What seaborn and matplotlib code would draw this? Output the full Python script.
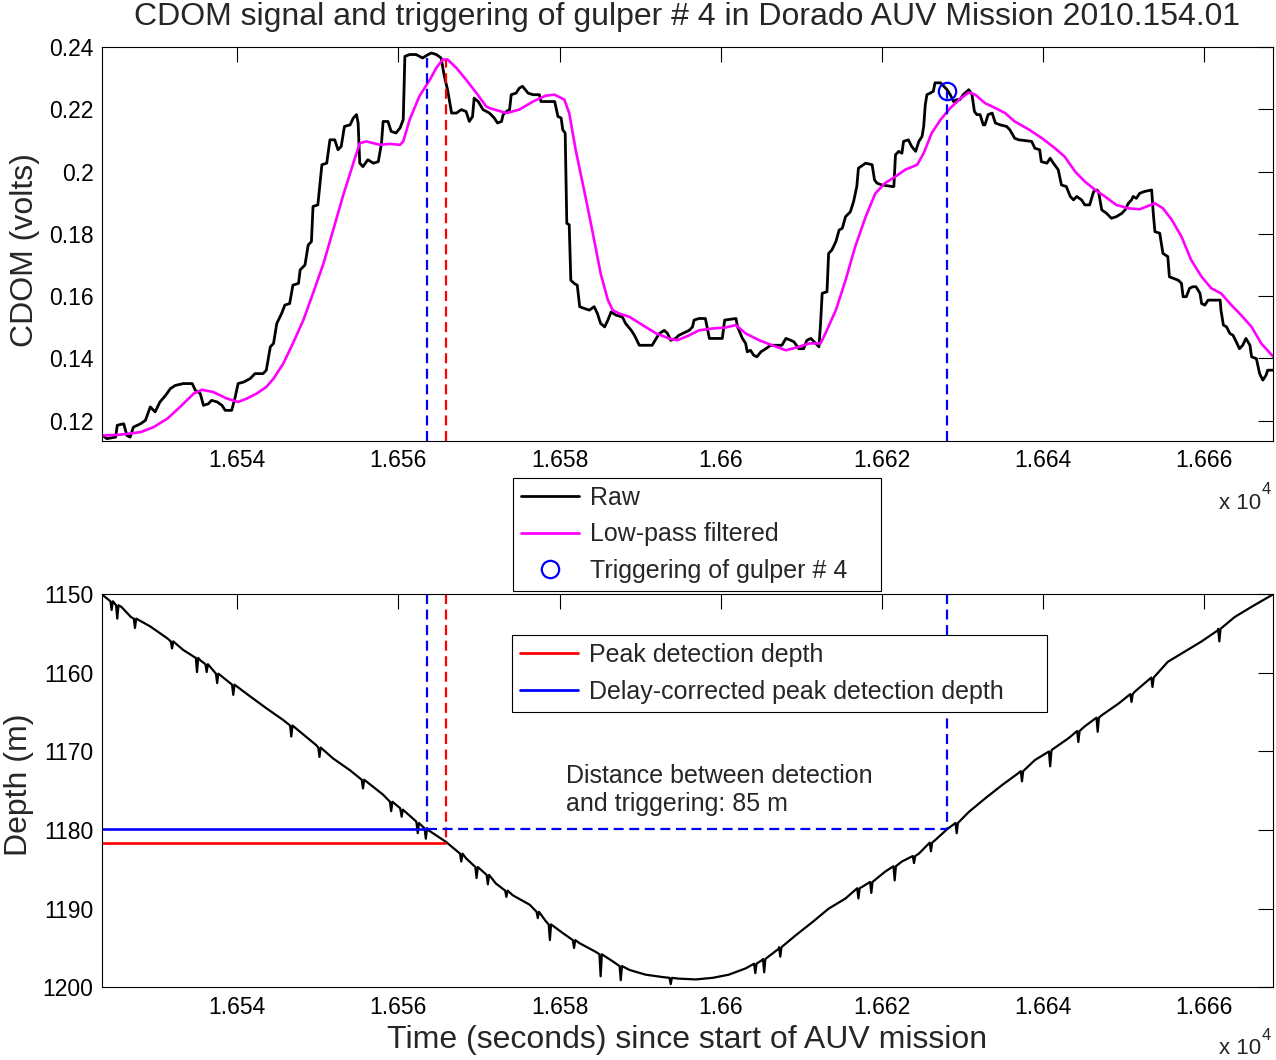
import matplotlib
matplotlib.use("Agg")
import matplotlib.pyplot as plt
from matplotlib.lines import Line2D
from matplotlib.ticker import FuncFormatter, MultipleLocator
import seaborn as sns
import pandas as pd

sns.set_style("white")
plt.rcParams["font.family"] = ["Liberation Sans", "DejaVu Sans"]

# ======================
# CDOM DATA (time in s since mission start, volts)
# ======================
raw_time = [
    16523.3, 16523.8, 16524.9, 16525.1, 16525.9, 16526.3, 16526.7, 16527.1, 16528.0, 16528.6,
    16529.2, 16529.8, 16530.4, 16531.1, 16531.7, 16532.3, 16533.3, 16534.4, 16534.8, 16535.4,
    16535.8, 16536.4, 16536.8, 16537.5, 16538.1, 16538.5, 16539.3, 16539.7, 16540.1, 16540.8,
    16541.6, 16542.2, 16543.2, 16543.6, 16544.1, 16544.5, 16544.9, 16545.5, 16545.9, 16546.5,
    16546.9, 16547.6, 16547.8, 16548.4, 16548.8, 16549.2, 16549.4, 16550.0, 16550.5, 16551.1,
    16551.5, 16552.1, 16552.5, 16552.9, 16553.3, 16554.0, 16554.4, 16554.8, 16555.0, 16555.2,
    16555.6, 16556.2, 16556.9, 16557.5, 16557.9, 16558.1, 16558.7, 16559.1, 16559.7, 16560.2,
    16560.6, 16560.8, 16561.4, 16562.2, 16563.0, 16563.7, 16564.1, 16564.7, 16565.3, 16565.7,
    16566.1, 16566.6, 16567.2, 16567.8, 16568.4, 16568.8, 16569.2, 16569.4, 16569.9, 16570.5,
    16571.3, 16571.9, 16572.3, 16572.8, 16573.0, 16573.4, 16573.8, 16574.0, 16574.6, 16575.0,
    16575.4, 16576.1, 16576.7, 16577.5, 16577.7, 16579.4, 16579.8, 16580.2, 16580.4, 16580.7,
    16580.9, 16581.2, 16581.4, 16581.8, 16582.2, 16582.5, 16583.1, 16583.7, 16584.3, 16584.7,
    16585.1, 16585.6, 16586.0, 16586.4, 16587.0, 16587.8, 16588.2, 16588.9, 16589.3, 16589.9,
    16591.5, 16592.0, 16592.4, 16593.0, 16593.4, 16593.8, 16594.4, 16594.8, 16595.7, 16596.1,
    16596.5, 16596.7, 16597.3, 16598.1, 16598.4, 16598.6, 16600.2, 16600.5, 16601.9, 16602.1,
    16602.7, 16603.1, 16603.3, 16603.7, 16604.1, 16604.5, 16605.0, 16605.6, 16606.2, 16607.6,
    16608.1, 16608.7, 16609.1, 16609.7, 16610.3, 16610.7, 16611.2, 16611.6, 16612.2, 16612.4,
    16612.6, 16613.2, 16613.4, 16613.8, 16614.3, 16614.7, 16615.1, 16615.5, 16616.1, 16616.5,
    16616.9, 16617.1, 16618.0, 16618.8, 16619.1, 16619.4, 16620.0, 16621.3, 16621.5, 16621.7,
    16622.1, 16622.5, 16622.7, 16623.3, 16623.7, 16624.2, 16624.6, 16625.0, 16625.2, 16625.4,
    16625.6, 16626.0, 16626.4, 16626.6, 16627.3, 16627.7, 16628.1, 16628.5, 16628.9, 16629.3,
    16629.7, 16630.1, 16630.8, 16631.2, 16631.5, 16631.8, 16632.2, 16632.6, 16632.8, 16633.2,
    16633.7, 16634.1, 16634.7, 16635.5, 16635.9, 16636.5, 16637.0, 16638.6, 16639.0, 16639.6,
    16639.8, 16640.5, 16640.9, 16641.3, 16641.9, 16642.3, 16642.9, 16643.4, 16643.8, 16644.2,
    16644.8, 16645.2, 16645.8, 16646.3, 16646.7, 16646.9, 16647.3, 16647.9, 16648.5, 16649.1,
    16649.8, 16650.2, 16650.6, 16651.0, 16651.2, 16651.6, 16652.0, 16652.6, 16653.5, 16653.7,
    16653.9, 16654.5, 16654.9, 16655.5, 16655.7, 16656.2, 16656.8, 16657.2, 16657.4, 16657.8,
    16658.2, 16658.6, 16659.0, 16659.5, 16659.7, 16660.1, 16660.5, 16662.0, 16662.1, 16662.4,
    16662.8, 16663.2, 16663.6, 16664.0, 16664.4, 16664.8, 16665.2, 16665.7, 16665.9, 16666.5,
    16666.9, 16667.3, 16667.7, 16667.9, 16668.6,
]
raw_cdom = [
    0.1152, 0.1142, 0.1147, 0.1185, 0.1190, 0.1152, 0.1147, 0.1179, 0.1190, 0.1201,
    0.1244, 0.1228, 0.1260, 0.1281, 0.1303, 0.1313, 0.1319, 0.1319, 0.1297, 0.1287,
    0.1249, 0.1254, 0.1265, 0.1260, 0.1249, 0.1233, 0.1233, 0.1271, 0.1319, 0.1324,
    0.1335, 0.1351, 0.1351, 0.1362, 0.1437, 0.1448, 0.1512, 0.1544, 0.1571, 0.1576,
    0.1635, 0.1641, 0.1684, 0.1700, 0.1764, 0.1775, 0.1888, 0.1893, 0.2022, 0.2027,
    0.2102, 0.2102, 0.2070, 0.2081, 0.2145, 0.2150, 0.2172, 0.2183, 0.2156, 0.2027,
    0.2016, 0.2038, 0.2027, 0.2032, 0.2091, 0.2161, 0.2161, 0.2129, 0.2124, 0.2140,
    0.2167, 0.2370, 0.2376, 0.2376, 0.2365, 0.2376, 0.2381, 0.2376, 0.2365, 0.2306,
    0.2263, 0.2188, 0.2188, 0.2199, 0.2193, 0.2161, 0.2177, 0.2236, 0.2225, 0.2199,
    0.2188, 0.2172, 0.2156, 0.2161, 0.2183, 0.2193, 0.2199, 0.2247, 0.2252, 0.2268,
    0.2274, 0.2252, 0.2247, 0.2247, 0.2225, 0.2225, 0.2177, 0.2172, 0.2134, 0.2124,
    0.1834, 0.1829, 0.1651, 0.1641, 0.1635, 0.1566, 0.1560, 0.1555, 0.1566, 0.1544,
    0.1512, 0.1501, 0.1523, 0.1549, 0.1539, 0.1533, 0.1512, 0.1490, 0.1474, 0.1442,
    0.1442, 0.1464, 0.1480, 0.1490, 0.1480, 0.1458, 0.1464, 0.1474, 0.1485, 0.1490,
    0.1501, 0.1523, 0.1528, 0.1528, 0.1490, 0.1464, 0.1464, 0.1523, 0.1528, 0.1501,
    0.1464, 0.1448, 0.1421, 0.1426, 0.1410, 0.1405, 0.1421, 0.1431, 0.1442, 0.1442,
    0.1464, 0.1458, 0.1453, 0.1431, 0.1431, 0.1458, 0.1464, 0.1453, 0.1437, 0.1512,
    0.1609, 0.1614, 0.1737, 0.1748, 0.1775, 0.1812, 0.1818, 0.1855, 0.1871, 0.1904,
    0.1952, 0.2011, 0.2027, 0.2022, 0.1973, 0.1963, 0.1957, 0.1952, 0.1952, 0.2054,
    0.2065, 0.2059, 0.2097, 0.2102, 0.2081, 0.2065, 0.2097, 0.2113, 0.2145, 0.2215,
    0.2247, 0.2252, 0.2258, 0.2285, 0.2285, 0.2274, 0.2263, 0.2247, 0.2225, 0.2231,
    0.2231, 0.2247, 0.2263, 0.2247, 0.2193, 0.2183, 0.2183, 0.2150, 0.2150, 0.2183,
    0.2188, 0.2156, 0.2150, 0.2145, 0.2134, 0.2107, 0.2102, 0.2097, 0.2075, 0.2070,
    0.2032, 0.2027, 0.2043, 0.2027, 0.2006, 0.1957, 0.1952, 0.1920, 0.1909, 0.1920,
    0.1909, 0.1893, 0.1893, 0.1936, 0.1941, 0.1936, 0.1877, 0.1866, 0.1850, 0.1855,
    0.1866, 0.1877, 0.1898, 0.1909, 0.1920, 0.1914, 0.1930, 0.1936, 0.1941, 0.1866,
    0.1807, 0.1802, 0.1737, 0.1727, 0.1662, 0.1657, 0.1651, 0.1641, 0.1598, 0.1598,
    0.1625, 0.1630, 0.1630, 0.1609, 0.1576, 0.1571, 0.1587, 0.1587, 0.1555, 0.1507,
    0.1501, 0.1480, 0.1474, 0.1453, 0.1431, 0.1442, 0.1464, 0.1442, 0.1405, 0.1399,
    0.1351, 0.1330, 0.1346, 0.1362, 0.1362,
]

filt_time = [
    16523.3, 16525.5, 16528.0, 16529.6, 16531.3, 16532.9, 16534.6, 16535.6, 16537.0, 16538.7,
    16540.1, 16541.2, 16542.4, 16543.6, 16544.5, 16545.7, 16546.9, 16548.2, 16549.4, 16550.7,
    16551.9, 16553.1, 16554.4, 16555.2, 16556.0, 16557.7, 16558.9, 16560.2, 16560.6, 16561.4,
    16562.6, 16563.9, 16564.7, 16565.5, 16566.1, 16567.2, 16568.4, 16569.7, 16570.9, 16571.3,
    16573.4, 16575.0, 16576.7, 16578.3, 16579.4, 16580.6, 16581.2, 16582.0, 16583.3, 16584.3,
    16585.1, 16586.0, 16586.6, 16587.4, 16588.7, 16590.3, 16592.0, 16593.6, 16594.6, 16596.1,
    16597.3, 16599.0, 16600.6, 16601.9, 16603.1, 16604.8, 16606.4, 16608.1, 16609.7, 16611.0,
    16612.4, 16613.0, 16614.3, 16615.5, 16616.7, 16618.0, 16619.2, 16620.4, 16621.7, 16622.9,
    16624.4, 16625.2, 16626.2, 16627.3, 16628.5, 16629.7, 16630.8, 16631.6, 16632.8, 16634.1,
    16635.3, 16636.5, 16638.2, 16639.9, 16641.5, 16642.7, 16644.0, 16645.2, 16646.5, 16647.7,
    16649.1, 16650.6, 16652.0, 16652.9, 16653.9, 16654.9, 16656.0, 16657.2, 16658.4, 16659.7,
    16660.9, 16662.1, 16663.4, 16664.6, 16665.9, 16667.1, 16668.6,
]
filt_cdom = [
    0.1152, 0.1155, 0.1163, 0.1179, 0.1206, 0.1244, 0.1287, 0.1299, 0.1292, 0.1271,
    0.1260, 0.1271, 0.1287, 0.1308, 0.1335, 0.1383, 0.1448, 0.1523, 0.1609, 0.1705,
    0.1812, 0.1920, 0.2027, 0.2091, 0.2097, 0.2086, 0.2089, 0.2086, 0.2097, 0.2167,
    0.2242, 0.2295, 0.2333, 0.2360, 0.2360, 0.2333, 0.2295, 0.2252, 0.2209, 0.2204,
    0.2188, 0.2199, 0.2225, 0.2244, 0.2247, 0.2231, 0.2188, 0.2070, 0.1909, 0.1780,
    0.1673, 0.1587, 0.1555, 0.1544, 0.1533, 0.1507, 0.1480, 0.1464, 0.1458, 0.1474,
    0.1490, 0.1496, 0.1499, 0.1507, 0.1480, 0.1458, 0.1442, 0.1426, 0.1437, 0.1448,
    0.1448, 0.1480, 0.1555, 0.1651, 0.1759, 0.1855, 0.1930, 0.1963, 0.1984, 0.2006,
    0.2022, 0.2059, 0.2124, 0.2167, 0.2204, 0.2233, 0.2254, 0.2247, 0.2220, 0.2204,
    0.2188, 0.2161, 0.2136, 0.2107, 0.2075, 0.2048, 0.2000, 0.1968, 0.1941, 0.1920,
    0.1893, 0.1882, 0.1879, 0.1888, 0.1898, 0.1882, 0.1845, 0.1791, 0.1716, 0.1662,
    0.1625, 0.1609, 0.1571, 0.1539, 0.1501, 0.1448, 0.1405,
]

# ======================
# DEPTH DATA (m)
# ======================
depth_time = [
    16523.3, 16525.6, 16526.8, 16529.2, 16531.3, 16533.3, 16535.4, 16541.6, 16543.6, 16545.7,
    16547.8, 16549.8, 16551.9, 16554.0, 16556.0, 16558.1, 16560.2, 16562.2, 16563.7, 16565.9,
    16568.4, 16570.5, 16572.1, 16574.2, 16576.3, 16578.3, 16580.4, 16582.5, 16584.5, 16586.6,
    16588.7, 16590.7, 16592.8, 16594.8, 16596.9, 16599.0, 16601.0, 16603.1, 16605.2, 16607.2,
    16609.3, 16611.4, 16613.4, 16615.5, 16617.6, 16620.4, 16622.5, 16624.6, 16626.6, 16628.1,
    16630.8, 16632.8, 16634.9, 16636.9, 16639.0, 16641.1, 16643.2, 16645.2, 16647.3, 16649.4,
    16651.4, 16655.5, 16657.6, 16659.7, 16661.7, 16663.8, 16665.9, 16668.6,
]
depth_m = [
    1150.1, 1151.6, 1152.9, 1154.1, 1155.6, 1157.1, 1158.4, 1163.0, 1164.5, 1166.0,
    1167.5, 1169.2, 1170.9, 1172.4, 1173.8, 1175.5, 1177.2, 1178.9, 1180.0, 1181.5,
    1183.6, 1185.3, 1186.8, 1188.3, 1189.5, 1191.6, 1193.1, 1194.4, 1195.5, 1196.7,
    1197.8, 1198.4, 1198.7, 1198.9, 1199.0, 1198.8, 1198.4, 1197.6, 1196.5, 1195.1,
    1193.4, 1191.7, 1190.0, 1188.7, 1187.2, 1185.3, 1184.0, 1183.0, 1181.3, 1179.9,
    1177.7, 1176.0, 1174.3, 1172.8, 1171.1, 1169.8, 1168.3, 1166.8, 1165.4, 1163.9,
    1162.4, 1158.6, 1157.3, 1156.0, 1154.6, 1152.9, 1151.6, 1150.0,
]
spike_time = [
    16524.4, 16525.1, 16527.3, 16531.9, 16535.0, 16536.2, 16537.5, 16539.5, 16546.7, 16550.2,
    16555.6, 16559.1, 16560.4, 16562.4, 16563.4, 16567.8, 16569.7, 16571.1, 16573.4, 16577.3,
    16578.8, 16581.8, 16585.1, 16587.6, 16593.8, 16604.3, 16605.4, 16607.4, 16617.1, 16618.7,
    16621.6, 16624.0, 16626.1, 16629.3, 16637.4, 16640.9, 16644.4, 16646.8, 16651.0, 16653.6,
    16661.9,
]
spike_base = [
    1150.9, 1151.4, 1153.1, 1156.0, 1158.1, 1158.9, 1160.1, 1161.5, 1166.7, 1169.5,
    1173.6, 1176.4, 1177.4, 1179.1, 1179.8, 1183.0, 1184.7, 1185.7, 1187.7, 1190.4,
    1192.0, 1194.0, 1195.8, 1197.3, 1198.8, 1197.0, 1196.4, 1194.9, 1187.4, 1186.6,
    1184.6, 1183.3, 1181.6, 1179.1, 1172.5, 1170.0, 1167.4, 1165.7, 1162.7, 1160.6,
    1154.4,
]
spike_depth = [
    1152.0, 1153.1, 1154.3, 1156.9, 1159.9, 1159.9, 1161.3, 1162.8, 1168.1, 1170.7,
    1174.7, 1177.6, 1178.3, 1180.4, 1181.1, 1184.0, 1186.1, 1186.9, 1188.5, 1191.2,
    1194.0, 1195.0, 1198.6, 1199.1, 1199.6, 1198.2, 1198.1, 1196.1, 1188.7, 1188.0,
    1186.4, 1184.2, 1182.7, 1180.4, 1173.8, 1171.9, 1168.8, 1167.5, 1163.7, 1161.8,
    1156.0,
]

# detection / triggering events
t_corrected = 16563.5   # delay-corrected peak time
t_peak = 16565.9        # peak detection time
t_trigger = 16628.1     # gulper #4 triggering
cdom_corrected = 0.2365
cdom_peak = 0.2360
cdom_trigger = 0.2259
depth_peak = 1181.6
depth_corrected = 1179.9

xmin, xmax = 16523.2, 16668.6

raw_df = pd.DataFrame({"time": raw_time, "cdom": raw_cdom})
filt_df = pd.DataFrame({"time": filt_time, "cdom": filt_cdom})

depth_pts = list(zip(depth_time, depth_m))
for t, b, s in zip(spike_time, spike_base, spike_depth):
    depth_pts += [(t - 0.15, b), (t, s), (t + 0.15, b)]
depth_df = pd.DataFrame(sorted(depth_pts), columns=["time", "depth"])

# ======================
# PLOTTING
# ======================
fig = plt.figure(figsize=(12.76, 10.6), dpi=100)
ax1 = fig.add_axes([0.0799, 0.5844, 0.918, 0.3712])
ax2 = fig.add_axes([0.0799, 0.0686, 0.918, 0.3708])

blue = "#0000ff"
red = "#ff0000"
magenta = "#ff00ff"
dash = (0, (4.5, 2.5))

# top: CDOM
sns.lineplot(data=raw_df, x="time", y="cdom", color="black", lw=2.0,
             estimator=None, sort=False, ax=ax1, legend=False)
sns.lineplot(data=filt_df, x="time", y="cdom", color=magenta, lw=1.9,
             estimator=None, sort=False, ax=ax1, legend=False)
ylo1 = 0.1136
ax1.vlines(t_corrected, ylo1, cdom_corrected, color=blue, lw=1.6, linestyles=dash)
ax1.vlines(t_peak, ylo1, cdom_peak, color=red, lw=1.6, linestyles=dash)
ax1.vlines(t_trigger, ylo1, cdom_trigger, color=blue, lw=1.6, linestyles=dash)
ax1.plot([t_trigger], [cdom_trigger], "o", mfc="none", mec=blue, mew=1.6, ms=12.5)
ax1.set_xlim(xmin, xmax)
ax1.set_ylim(ylo1, 0.24)
ax1.yaxis.set_major_locator(MultipleLocator(0.02))

# bottom: depth
sns.lineplot(data=depth_df, x="time", y="depth", color="black", lw=1.6,
             estimator=None, sort=False, ax=ax2, legend=False)
ax2.vlines(t_corrected, 1150, depth_corrected, color=blue, lw=1.6, linestyles=dash)
ax2.vlines(t_peak, 1150, depth_peak, color=red, lw=1.6, linestyles=dash)
ax2.vlines(t_trigger, 1150, depth_corrected, color=blue, lw=1.6, linestyles=dash)
ax2.hlines(depth_corrected, xmin, t_corrected, color=blue, lw=1.9)
ax2.hlines(depth_peak, xmin, t_peak, color=red, lw=1.9)
ax2.hlines(depth_corrected, t_corrected, t_trigger, color=blue, lw=1.6, linestyles=dash)
ax2.set_xlim(xmin, xmax)
ax2.set_ylim(1200, 1150)
ax2.yaxis.set_major_locator(MultipleLocator(10))
ax2.text(16580.8, 1174.9, "Distance between detection\nand triggering: 85 m",
         fontsize=18, ha="left", va="center", linespacing=1.25)

xfmt = FuncFormatter(lambda v, p: "%g" % (v / 1e4))
for ax in (ax1, ax2):
    ax.xaxis.set_major_locator(MultipleLocator(20))
    ax.xaxis.set_major_formatter(xfmt)
    ax.yaxis.set_major_formatter(FuncFormatter(lambda v, p: "%g" % round(v, 4)))
    ax.tick_params(direction="in", length=11, width=0.8, top=True, right=True,
                   labelsize=16.5, pad=6, colors="black")
    ax.set_xlabel("")
    ax.set_ylabel("")
    for s in ax.spines.values():
        s.set_color("black")
        s.set_linewidth(0.8)

# titles and labels
fig.text(0.5388, 1 - 17 / 1060,
         "CDOM signal and triggering of gulper # 4 in Dorado AUV Mission 2010.154.01",
         fontsize=23, ha="center", va="center")
fig.text(25 / 1276, 1 - 250 / 1060, "CDOM (volts)", fontsize=23, rotation=90,
         ha="center", va="center")
fig.text(19 / 1276, 1 - 785 / 1060, "Depth (m)", fontsize=23, rotation=90,
         ha="center", va="center")
fig.text(0.5388, 1 - 1040 / 1060, "Time (seconds) since start of AUV mission",
         fontsize=23, ha="center", va="center")
for ytxt in (503, 1049):
    fig.text(1219 / 1276, 1 - ytxt / 1060, "x 10", fontsize=16, ha="left", va="center")
    fig.text(1262 / 1276, 1 - (ytxt - 14) / 1060, "4", fontsize=12, ha="left", va="center")

# legends (boxes stretched to the reference widths)
legend_style = dict(loc="upper left", mode="expand", borderaxespad=0, fontsize=18,
                    frameon=True, fancybox=False, framealpha=1, edgecolor="black",
                    handlelength=2.3, handletextpad=0.45, labelspacing=0.5,
                    borderpad=0.32)
h1 = [
    Line2D([], [], color="black", lw=2),
    Line2D([], [], color=magenta, lw=2),
    Line2D([], [], color=blue, marker="o", mfc="none", mew=1.6, ms=12.5, ls="none"),
]
leg1 = fig.legend(h1, ["Raw", "Low-pass filtered", "Triggering of gulper # 4"],
                  bbox_to_anchor=(513 / 1276, 1 - 478 / 1060, 368 / 1276, 0.0),
                  **legend_style)
leg1.get_frame().set_linewidth(0.8)

h2 = [Line2D([], [], color=red, lw=2), Line2D([], [], color=blue, lw=2)]
leg2 = fig.legend(h2, ["Peak detection depth", "Delay-corrected peak detection depth"],
                  bbox_to_anchor=(512 / 1276, 1 - 635 / 1060, 535 / 1276, 0.0),
                  **legend_style)
leg2.get_frame().set_linewidth(0.8)

# ======================
# SAVE
# ======================
plt.savefig("out.png", dpi=100)
plt.close()
